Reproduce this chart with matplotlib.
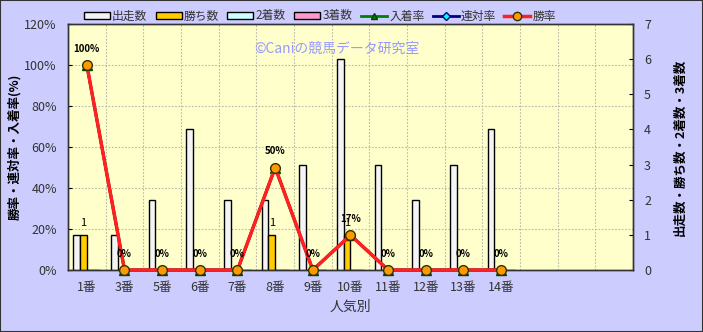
import numpy as np
import matplotlib
matplotlib.use("Agg")
import matplotlib.pyplot as plt
from matplotlib.patches import Patch, Rectangle
from matplotlib.lines import Line2D

plt.rcParams['font.family'] = ['Noto Sans CJK JP', 'DejaVu Sans']

# データ
categories = ['1番', '3番', '5番', '6番', '7番', '8番', '9番', '10番', '11番', '12番', '13番', '14番']
runs = [1, 1, 2, 4, 2, 2, 3, 6, 3, 2, 3, 4]
wins = [1, 0, 0, 0, 0, 1, 0, 1, 0, 0, 0, 0]
seconds = [0, 0, 0, 0, 0, 0, 0, 0, 0, 0, 0, 0]
thirds = [0, 0, 0, 0, 0, 0, 0, 0, 0, 0, 0, 0]
win_rate = [100, 0, 0, 0, 0, 50, 0, 17, 0, 0, 0, 0]
rentai_rate = [100, 0, 0, 0, 0, 50, 0, 17, 0, 0, 0, 0]
nyuchaku_rate = [100, 0, 0, 0, 0, 50, 0, 17, 0, 0, 0, 0]
n_slots = 15

bg = '#CCCCFF'
plot_bg = '#FFFFCC'
txt = '#333333'
grid_c = '#B8B8A8'

fig = plt.figure(figsize=(7.03, 3.32), dpi=100, facecolor=bg)
ax2 = fig.add_axes([68/703, 1-270/332, 565/703, 246/332])  # 件数 (右)
ax = ax2.twinx()  # 率 (左)
ax.yaxis.tick_left()
ax.yaxis.set_label_position('left')
ax2.yaxis.tick_right()
ax2.yaxis.set_label_position('right')
ax.set_zorder(ax2.get_zorder() + 1)
ax.patch.set_visible(False)
ax2.set_facecolor(plot_bg)

x = np.arange(len(categories))
w = 0.18
bar_specs = [(runs, '#F4F4F4'), (wins, '#FFCC00'), (seconds, '#CCFFFF'), (thirds, '#FF99CC')]
for i, (vals, col) in enumerate(bar_specs):
    ax2.bar(x + (i - 1.5) * w, vals, w, color=col, edgecolor='black', linewidth=1, zorder=3)

# 勝ち数ラベル
for xi, v in zip(x, wins):
    if v > 0:
        ax2.text(xi - 0.5 * w, v + 0.2, str(v), ha='center', va='bottom', fontsize=8, color='black', zorder=4)

ax2.set_xlim(-0.5, n_slots - 0.5)
ax2.set_ylim(0, 7)
ax2.set_yticks(range(8))
ax2.set_yticks(np.linspace(0, 7, 7), minor=True)
ax2.set_xticks(np.arange(0.5, n_slots - 0.5, 1), minor=True)
ax2.grid(which='minor', color=grid_c, linestyle=(0, (1.5, 1.5)), linewidth=0.8, zorder=0)
ax2.set_xticks(x)
ax2.set_xticklabels(categories)
ax2.tick_params(axis='x', which='both', length=0, pad=8, labelsize=9, labelcolor=txt)
ax2.tick_params(axis='y', which='major', direction='in', length=3, pad=8, labelsize=9, labelcolor=txt)
ax2.tick_params(axis='y', which='minor', length=0)
ax2.set_xlabel('人気別', fontsize=10, color=txt, labelpad=4)
ax2.set_ylabel('出走数・勝ち数・2着数・3着数', fontsize=9, fontweight='bold', color='black',
               rotation=90, labelpad=16)

# 率の折れ線
ax.plot(x, nyuchaku_rate, color='green', linewidth=2, marker='^', markersize=7,
        markerfacecolor='green', markeredgecolor='#004400', clip_on=False, zorder=3)
ax.plot(x, rentai_rate, color='navy', linewidth=2, marker='D', markersize=5,
        markerfacecolor='cyan', markeredgecolor='navy', clip_on=False, zorder=4)
ax.plot(x, win_rate, color='#FF2020', linewidth=2.5, marker='o', markersize=7,
        markerfacecolor='#FF9900', markeredgecolor='#333300', clip_on=False, zorder=5)
for xi, v in zip(x, win_rate):
    ax.text(xi, v + 8, f'{v}%', ha='center', va='center', fontsize=7, fontweight='bold',
            color='black', zorder=6)

ax.set_xlim(-0.5, n_slots - 0.5)
ax.set_ylim(0, 120)
ax.set_yticks(range(0, 121, 20))
ax.set_yticklabels([f'{v}%' for v in range(0, 121, 20)])
ax.tick_params(axis='y', direction='in', length=3, pad=8, labelsize=9, labelcolor=txt)
ax.set_ylabel('勝率・連対率・入着率(%)', fontsize=9, fontweight='bold', color='black', labelpad=2)

for a in (ax, ax2):
    for s in a.spines.values():
        s.set_color('#333333')
        s.set_linewidth(1)

# 透かし
fig.text(337/703, 1 - 49/332, '©Caniの競馬データ研究室', ha='center', va='center',
         fontsize=10, color='#9999FF')

# 凡例
handles = [
    Patch(facecolor='#F4F4F4', edgecolor='black', label='出走数'),
    Patch(facecolor='#FFCC00', edgecolor='black', label='勝ち数'),
    Patch(facecolor='#CCFFFF', edgecolor='black', label='2着数'),
    Patch(facecolor='#FF99CC', edgecolor='black', label='3着数'),
    Line2D([], [], color='green', linewidth=2, marker='^', markersize=5,
           markerfacecolor='green', markeredgecolor='#004400', label='入着率'),
    Line2D([], [], color='navy', linewidth=2, marker='D', markersize=4,
           markerfacecolor='cyan', markeredgecolor='navy', label='連対率'),
    Line2D([], [], color='#FF2020', linewidth=2.5, marker='o', markersize=6,
           markerfacecolor='#FF9900', markeredgecolor='#333300', label='勝率'),
]
fig.legend(handles=handles, loc='center', bbox_to_anchor=(320/703, 1 - 16/332), ncol=7,
           frameon=False, fontsize=8.5, handlelength=2.2, handleheight=0.5,
           handletextpad=0.2, columnspacing=0.7, labelcolor=txt)

fig.patches.append(Rectangle((0, 0), 1, 1, transform=fig.transFigure, fill=False,
                             edgecolor='#333333', linewidth=1.5))

fig.savefig('out.png', dpi=100, facecolor=bg)
